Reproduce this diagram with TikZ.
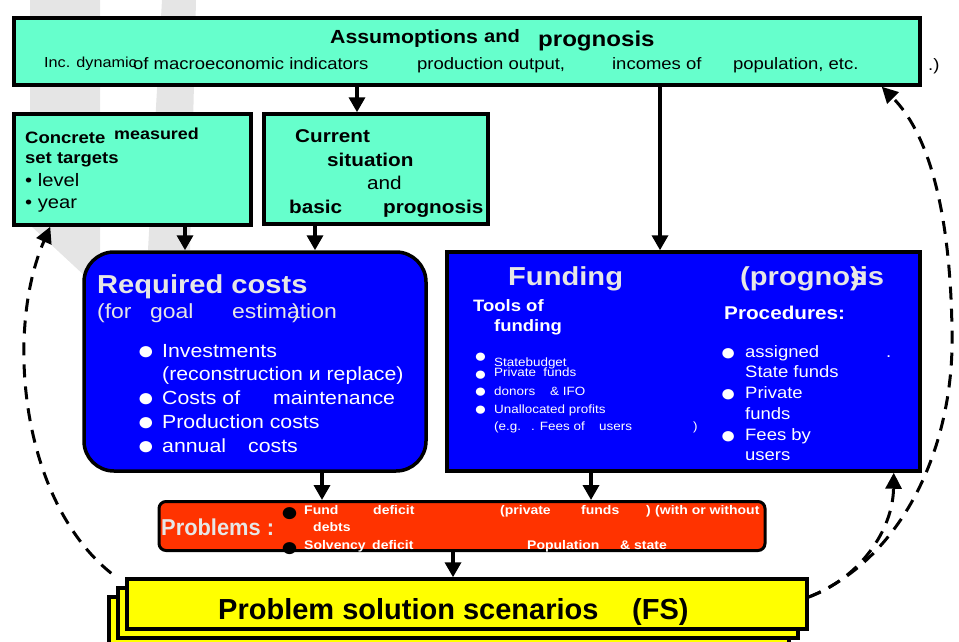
\documentclass[tikz,border=0pt]{standalone}
\usepackage{fontspec}
\setmainfont[FakeStretch=1.12]{Liberation Sans}
\newfontfamily\narrowfont[FakeStretch=0.95]{Liberation Sans}
\newfontfamily\scenfont[FakeStretch=1.0]{Liberation Sans}
\usetikzlibrary{arrows.meta,positioning}
\definecolor{aqua}{HTML}{66FFCC}
\definecolor{deepblue}{HTML}{0000FF}
\definecolor{alarm}{HTML}{FF3300}
\definecolor{lemon}{HTML}{FFFF00}
\definecolor{pale}{HTML}{E6E6E6}
\newcommand{\txtsize}[1]{\fontsize{#1}{#1}\selectfont}
\newcommand{\dotmark}[2]{\raisebox{#2}[0pt][0pt]{\txtsize{#1}●}}

\begin{document}
\begin{tikzpicture}[x=1pt,y=-1pt]
            \tikzstyle{greenbox}=[draw, line width=3.5pt, fill=aqua, inner sep=0pt]
            \tikzstyle{bluebox}=[draw, line width=3.5pt, fill=deepblue, inner sep=0pt]
            \tikzstyle{redbox}=[draw, line width=3pt, fill=alarm, rounded corners=7pt, inner sep=0pt]
            \tikzstyle{yellowbox}=[draw, line width=3.5pt, fill=lemon, inner sep=0pt, minimum width=680pt, minimum height=50pt]
            \tikzstyle{flow}=[line width=3.5pt, -{Triangle[width=16pt,length=15pt]}]
            \tikzstyle{feedback}=[line width=3pt, dash pattern=on 13pt off 9pt, -{Triangle[width=16pt,length=16pt]}]
            \tikzstyle{txt}=[anchor=base west, inner sep=0pt]
            \tikzstyle{wtxt}=[txt, text=white]
            \tikzstyle{ptxt}=[txt, text=pale]

            \useasboundingbox (0,0) rectangle (959,641);

            % faint logo behind
            \fill[black!10] (30,0) -- (100,0) -- (100,290) -- (30,225) -- cycle;
            \fill[black!10] (162,0) -- (196,0) -- (190,250) -- (148,250) -- cycle;

            \node[greenbox, minimum width=906pt, minimum height=67pt] (assume) at (467,51.5) {};
            \node[greenbox, minimum width=237pt, minimum height=111pt] (targets) at (132.5,169.5) {};
            \node[greenbox, minimum width=224pt, minimum height=110pt] (current) at (376,169) {};
            \node[bluebox, rounded corners=30pt, minimum width=342pt, minimum height=219pt] (costs) at (255,361.5) {};
            \node[bluebox, minimum width=473pt, minimum height=219pt] (funding) at (683.5,361.5) {};
            \node[redbox, minimum width=606pt, minimum height=49pt] (problems) at (462,526) {};
            \node[yellowbox] (scen3) at (449,622) {};
            \node[yellowbox] (scen2) at (458,613) {};
            \node[yellowbox] (scen) at (467,604) {};

            % assumptions
            \node[txt, font=\bfseries\txtsize{19}] (ttlA) at (330,43) {Assumoptions};
            \node[txt, font=\bfseries\txtsize{18}] (ttlB) at (484,42) {and};
            \node[txt, font=\bfseries\txtsize{21.5}] (ttlC) at (538,46) {prognosis};
            \node[txt, font=\txtsize{14.5}] (incl) at (44,67) {Inc. dynamic};
            \node[txt, font=\txtsize{16.5}] (macro) at (133,69) {\makebox[284pt][l]{of macroeconomic indicators}\makebox[195pt][l]{production output,}\makebox[121pt][l]{incomes of}population, etc.};
            \node[txt, font=\txtsize{16.5}] (close) at (928,70) {.)};

            % targets
            \node[txt, font=\bfseries\txtsize{16.5}] (tg1) at (25,143) {Concrete};
            \node[txt, font=\bfseries\txtsize{16}] (tg2) at (114,139) {measured};
            \node[txt, font=\bfseries\txtsize{16.5}] (tg3) at (25,163) {set targets};
            \node[txt, font=\txtsize{18}] (tg4) at (25,186) {• level};
            \node[txt, font=\txtsize{18}] (tg5) at (25,208) {• year};

            % current situation
            \node[txt, font=\bfseries\txtsize{18.5}] (cs1) at (295,142) {Current};
            \node[txt, font=\bfseries\txtsize{18.5}] (cs2) at (327,166) {situation};
            \node[txt, font=\txtsize{18.5}] (cs3) at (367,189) {and};
            \node[txt, font=\bfseries\txtsize{18.5}] (cs4) at (289,213) {basic};
            \node[txt, font=\bfseries\txtsize{18.5}] (cs5) at (383,213) {prognosis};

            % required costs
            \node[ptxt, font=\bfseries\txtsize{26}] (rc1) at (97,293) {Required costs};
            \node[ptxt, font=\txtsize{20.5}] (rc2) at (97,318) {\makebox[53pt][l]{(for}\makebox[82pt][l]{goal}estima\llap{)}tion};
            \node[wtxt, font=\txtsize{19}] (rc3) at (137,357) {\makebox[25pt][l]{\dotmark{26}{-2pt}}Investments};
            \node[wtxt, font=\txtsize{19}] (rc4) at (162,380) {(reconstruction и replace)};
            \node[wtxt, font=\txtsize{19}] (rc5) at (137,404) {\makebox[25pt][l]{\dotmark{26}{-2pt}}\makebox[111pt][l]{Costs of}maintenance};
            \node[wtxt, font=\txtsize{19}] (rc6) at (137,428) {\makebox[25pt][l]{\dotmark{26}{-2pt}}Production costs};
            \node[wtxt, font=\txtsize{19}] (rc7) at (137,452) {\makebox[25pt][l]{\dotmark{26}{-2pt}}\makebox[86pt][l]{annual}costs};

            % funding
            \node[ptxt, font=\bfseries\txtsize{26}] (fd1) at (508,285) {Funding};
            \node[ptxt, font=\bfseries\txtsize{26}] (fd2) at (740,285) {(progno\rlap{s})is};
            \node[wtxt, font=\bfseries\txtsize{16.5}] (fd3) at (473,311) {Tools of};
            \node[wtxt, font=\bfseries\txtsize{16.5}] (fd4) at (494,331) {funding};
            \node[wtxt, font=\bfseries\txtsize{18.5}] (fd5) at (724,319) {Procedures:};
            \node[wtxt, font=\txtsize{12}] (fl1) at (474,366) {\makebox[20pt][l]{\dotmark{19}{3.5pt}}Statebudget};
            \node[wtxt, font=\txtsize{12}] (fl2) at (474,376) {\makebox[20pt][l]{\dotmark{19}{-4pt}}Private\ \ funds};
            \node[wtxt, font=\txtsize{12}] (fl3) at (474,395) {\makebox[20pt][l]{\dotmark{19}{-2.5pt}}\makebox[56pt][l]{donors}\& IFO};
            \node[wtxt, font=\txtsize{12}] (fl4) at (474,413) {\makebox[20pt][l]{\dotmark{19}{-2.5pt}}Unallocated profits};
            \node[wtxt, font=\txtsize{12}] (fl5) at (494,430) {\makebox[37pt][l]{(e.g.}\makebox[68pt][l]{. Fees of}\makebox[94pt][l]{users})};
            \node[wtxt, font=\txtsize{16.5}] (fr1) at (720,357) {\makebox[25pt][l]{\dotmark{24}{-3pt}}\makebox[141pt][l]{assigned}.};
            \node[wtxt, font=\txtsize{16.5}] (fr2) at (745,377) {State funds};
            \node[wtxt, font=\txtsize{16.5}] (fr3) at (720,398) {\makebox[25pt][l]{\dotmark{24}{-3pt}}Private};
            \node[wtxt, font=\txtsize{16.5}] (fr4) at (745,419) {funds};
            \node[wtxt, font=\txtsize{16.5}] (fr5) at (720,440) {\makebox[25pt][l]{\dotmark{24}{-3pt}}Fees by};
            \node[wtxt, font=\txtsize{16.5}] (fr6) at (745,460) {users};

            % problems
            \node[ptxt, font=\narrowfont\bfseries\txtsize{23}] (pb1) at (161,535) {Problems :};
            \node[wtxt, font=\bfseries\txtsize{12.5}] (pb2) at (280,514) {\makebox[24pt][l]{\textcolor{black}{\dotmark{28}{-7pt}}}\makebox[69pt][l]{Fund}\makebox[127pt][l]{deficit}\makebox[81pt][l]{(private}\makebox[65pt][l]{funds}\makebox[9pt][l]{)}(with or without};
            \node[wtxt, font=\bfseries\txtsize{12.5}] (pb3) at (313,531) {debts};
            \node[wtxt, font=\bfseries\txtsize{12.5}] (pb4) at (280,549) {\makebox[24pt][l]{\textcolor{black}{\dotmark{28}{-7pt}}}\makebox[68pt][l]{Solvency}\makebox[155pt][l]{deficit}\makebox[93pt][l]{Population}\& state};

            % scenarios
            \node[txt, font=\scenfont\bfseries\txtsize{29}] (scn) at (218,619) {\makebox[414pt][l]{Problem solution scenarios}(FS)};

            \coordinate (colA) at (357,0);
            \coordinate (colB) at (660,0);
            \coordinate (colC) at (185,0);
            \coordinate (colD) at (315,0);
            \coordinate (colE) at (322,0);
            \coordinate (colF) at (591,0);
            \coordinate (colG) at (453,0);

            \draw[flow] (assume.south -| colA) -- (current.north -| colA);
            \draw[flow] (assume.south -| colB) -- (funding.north -| colB);
            \draw[flow] (targets.south -| colC) -- (costs.north -| colC);
            \draw[flow] (current.south -| colD) -- (costs.north -| colD);
            \draw[flow] (costs.south -| colE) -- (problems.north -| colE);
            \draw[flow] (funding.south -| colF) -- (problems.north -| colF);
            \draw[flow] (problems.south -| colG) -- (scen.north -| colG);

            % feedback loops
            \draw[feedback] ([shift={(-14pt,4pt)}]scen.north west) .. controls (20,500) and (5,330) .. ([xshift=38pt]targets.south west);
            \draw[feedback] ([yshift=7pt]scen.east) .. controls (900,560) and (955,450) .. (952,330) .. controls (950,200) and (925,130) .. ([xshift=-40pt]assume.south east);
            \draw[feedback] ([yshift=7pt]scen.east) .. controls (860,578) and (893,530) .. ([xshift=-28pt]funding.south east);

        \end{tikzpicture}
\end{document}
